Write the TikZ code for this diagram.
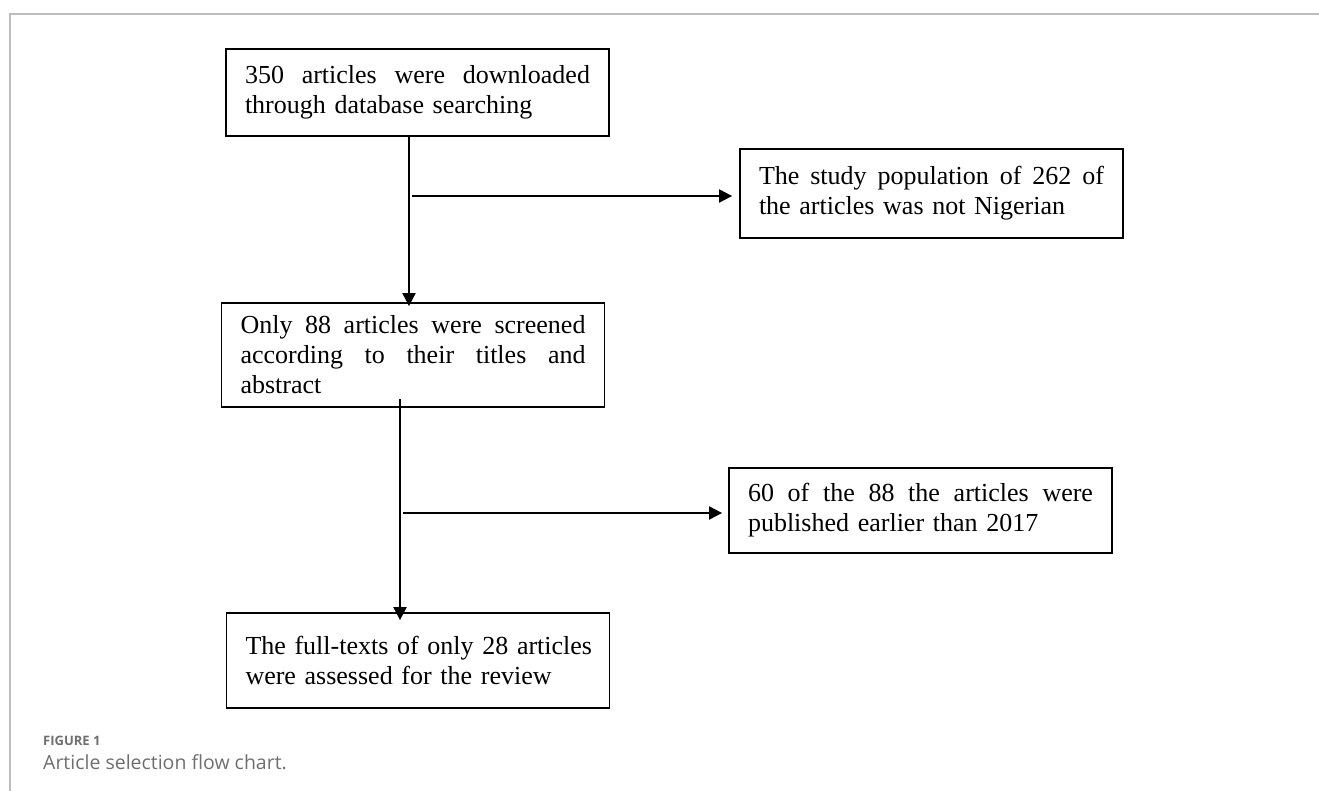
\documentclass[tikz,border=0pt]{standalone}
\usepackage{fontspec}
\setmainfont{Liberation Serif}
\newfontfamily\capfont{Open Sans}
\usetikzlibrary{arrows.meta}
\definecolor{framegray}{HTML}{BDBDBD}
\definecolor{capgray}{HTML}{6F6F6F}
\newcommand\jline[1]{\leavevmode\hbox to 345pt{#1}}
\begin{document}
\begin{tikzpicture}[x=1pt,y=-1pt,
  box/.style={draw, line width=1.8pt, text width=345pt, inner xsep=19pt, inner ysep=0pt,
    align=left, font=\fontsize{26}{30}\selectfont},
  arr/.style={line width=2pt, -{Triangle[length=13pt,width=13pt]}},
  frameline/.style={draw=framegray, line width=1.5pt}]
\useasboundingbox[fill=white] (0,0) rectangle (1319,791);
% frame
\coordinate (fc) at (10,14);
\coordinate (fr) at (1319,14);
\coordinate (fb) at (10,791);
\draw[frameline] (fb) -- (fc) -- (fr);
% boxes
\node[box, minimum height=87pt] (b1) at (417.5,92.5)
  {\jline{350\hfill articles\hfill were\hfill downloaded}\\\mbox{through database searching}};
\node[box, minimum height=89pt] (b2) at (931.5,193.5)
  {\jline{The\hfill study\hfill population\hfill of\hfill 262\hfill of}\\\mbox{the articles was not Nigerian}};
\node[box, minimum height=104pt] (b3) at (413,355)
  {\jline{Only\hfill 88\hfill articles\hfill were\hfill screened}\\\jline{according\hfill to\hfill their\hfill titles\hfill and}\\\mbox{abstract}};
\node[box, minimum height=85pt] (b4) at (920.5,510.5)
  {\jline{60\hfill of\hfill the\hfill 88\hfill the\hfill articles\hfill were}\\\mbox{published earlier than 2017}};
\node[box, minimum height=95pt] (b5) at (418,660.5)
  {\mbox{The full-texts of only 28 articles}\\\mbox{were assessed for the review}};
% connectors
\coordinate (j1) at (409,196);
\coordinate (j2) at (400,513);
\draw[arr] (b1.south -| j1) -- ([yshift=-4pt]b3.north -| j1);
\draw[arr] ([xshift=3pt]j1) -- ([xshift=-7pt]b2.west |- j1);
\draw[arr] ([yshift=9pt]b3.south -| j2) -- ([yshift=-8pt]b5.north -| j2);
\draw[arr] ([xshift=3pt]j2) -- ([xshift=-6pt]b4.west |- j2);
% caption
\node[anchor=base west, inner sep=0pt, text=capgray, font=\capfont\bfseries\fontsize{13}{15}\selectfont] (fig) at (43,745) {FIGURE 1};
\node[anchor=base west, inner sep=0pt, text=capgray, font=\capfont\fontsize{19.5}{23}\selectfont] (cap) at (43,769) {Article selection flow chart.};
\end{tikzpicture}
\end{document}
